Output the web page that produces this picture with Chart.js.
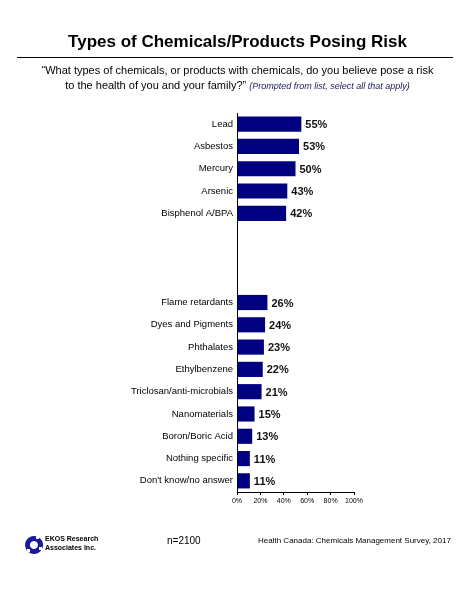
<!DOCTYPE html>
<html>
<head>
<meta charset="utf-8">
<script src="https://cdn.jsdelivr.net/npm/chart.js@4"></script>
<style>
  body{margin:0;background:#fff;font-family:'Liberation Sans',Arial,sans-serif;}
  #wrap{position:relative;width:475px;height:600px;overflow:hidden;}
  #myChart{position:absolute;left:0;top:0;}
  .txt{position:absolute;color:#000;white-space:nowrap;}
  #title{left:0;width:475px;top:32px;text-align:center;font-weight:bold;font-size:17px;}
  #rule{position:absolute;left:17px;width:436px;top:57px;height:1px;background:#000;}
  #question{left:0;width:475px;top:63px;text-align:center;font-size:11px;line-height:15px;}
  #question i{font-size:9px;color:#202060;}
  #logo{position:absolute;left:23px;top:535px;}
  #ekos{left:45px;top:534px;font-size:7px;font-weight:bold;line-height:9px;}
  #n{left:167px;top:535px;font-size:10px;}
  #source{left:258px;top:536px;font-size:8px;}
</style>
</head>
<body>
<div id="wrap">
  <canvas id="myChart" width="475" height="600"></canvas>
  <div class="txt" id="title">Types of Chemicals/Products Posing Risk</div>
  <div id="rule"></div>
  <div class="txt" id="question">“What types of chemicals, or products with chemicals, do you believe pose a risk<br>to the health of you and your family?” <i>(Prompted from list, select all that apply)</i></div>
  <svg id="logo" width="22" height="20" viewBox="0 0 22 20">
    <path d="M11 1a9 9 0 1 0 0.1 0z M11 6a4 4 0 1 1 -0.1 0z" fill="#1a1aa0" fill-rule="evenodd"/>
    <rect x="13" y="1" width="3" height="3" fill="#fff"/>
    <rect x="4" y="14" width="3" height="3" fill="#fff"/>
    <rect x="16" y="12" width="3" height="3" fill="#fff"/>
  </svg>
  <div class="txt" id="ekos">EKOS Research<br>Associates Inc.</div>
  <div class="txt" id="n">n=2100</div>
  <div class="txt" id="source">Health Canada: Chemicals Management Survey, 2017</div>
</div>
<script>
'use strict';
// categories, with three blank rows splitting the two groups
let chemicalNames=['Lead','Asbestos','Mercury','Arsenic','Bisphenol A/BPA','','','',
  'Flame retardants','Dyes and Pigments','Phthalates','Ethylbenzene','Triclosan/anti-microbials',
  'Nanomaterials','Boron/Boric Acid','Nothing specific','Don\'t know/no answer'];
let percentValues=[55,53,50,43,42,null,null,null,26,24,23,22,21,15,13,11,11];
let tickValues=[0,20,40,60,80,100];

let fontFam="'Liberation Sans', Arial, sans-serif";

let valueLabels={
  id:'valueLabels',
  afterDatasetsDraw(chart){
    let ctx=chart.ctx;
    let meta=chart.getDatasetMeta(0);
    ctx.save();
    ctx.font='bold 11px '+fontFam;
    ctx.fillStyle='#111';
    ctx.textBaseline='middle';
    meta.data.forEach(function(bar,i){
      if(percentValues[i]===null) return;
      ctx.fillText(percentValues[i]+'%',bar.x+4,bar.y+1);
    });
    ctx.restore();
  }
};

let ctx=document.getElementById('myChart');
let myChart=new Chart(ctx,{
  type:'bar',
  data:{
    labels:chemicalNames,
    datasets:[{
      data:percentValues,
      backgroundColor:'#000080',
      barPercentage:0.68,
      categoryPercentage:1
    }]
  },
  options:{
    indexAxis:'y',
    responsive:false,
    devicePixelRatio:1,
    animation:false,
    layout:{padding:{top:113,right:121,bottom:0,left:0}},
    plugins:{legend:{display:false},tooltip:{enabled:false}},
    scales:{
      x:{
        min:0,max:100,
        afterBuildTicks:function(s){ s.ticks=tickValues.map(function(v){return {value:v};}); },
        afterFit:function(s){ s.height=108; },
        ticks:{callback:function(v){return v+'%';},font:{size:7,family:fontFam},color:'#000',padding:2,maxRotation:0},
        grid:{drawOnChartArea:false,drawTicks:true,tickLength:3,color:'#000'},
        border:{display:true,color:'#000',width:1}
      },
      y:{
        afterFit:function(s){ s.width=237; },
        ticks:{font:{size:9.5,family:fontFam},color:'#000',padding:4,autoSkip:false},
        grid:{display:false,drawTicks:false},
        border:{display:true,color:'#000',width:1}
      }
    }
  },
  plugins:[valueLabels]
});
</script>
</body>
</html>
